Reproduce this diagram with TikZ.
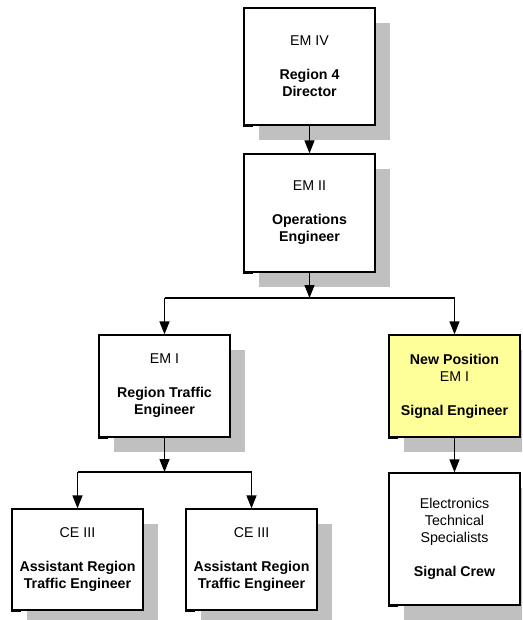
\documentclass[tikz,border=0pt]{standalone}
\usepackage{fontspec}
\setmainfont{Liberation Sans}
\usetikzlibrary{arrows.meta,shadows}
\definecolor{shadowgray}{HTML}{C0C0C0}
\definecolor{newyellow}{HTML}{FFFF99}
\begin{document}
\begin{tikzpicture}[x=1pt,y=-1pt,
  orgbox/.style={draw=black, fill=white, line width=1.2pt, minimum width=131pt,
    inner sep=0pt, align=center, font=\fontsize{14.2}{17}\selectfont,
    drop shadow={shadow xshift=15pt, shadow yshift=-15pt, fill=shadowgray, opacity=1}},
  conn/.style={line width=1.2pt},
  cornermark/.style={line width=1.3pt},
  arr/.style={conn, -{Triangle[width=10pt,length=13pt]}}]
\clip (0,0) rectangle (522,620);
\fill[white] (0,0) rectangle (522,620);

\node[orgbox, minimum height=117pt] (dir) at (309.5,66.5)
  {EM IV\\[17pt]\textbf{Region 4}\\\textbf{Director}};
\node[orgbox, minimum height=118pt] (ops) at (309.5,213)
  {EM II\\[17pt]\textbf{Operations}\\\textbf{Engineer}};
\node[orgbox, minimum height=102pt] (rte) at (164.5,386)
  {EM I\\[17pt]\textbf{Region Traffic}\\\textbf{Engineer}};
\node[orgbox, fill=newyellow, minimum height=102pt] (sig) at (454.5,386)
  {\textbf{New Position}\\EM I\\[17pt]\textbf{Signal Engineer}};
\node[orgbox, minimum height=132pt] (crew) at (454.5,539)
  {Electronics\\Technical\\Specialists\\[17pt]\textbf{Signal Crew}};
\node[orgbox, minimum height=101pt] (ast1) at (77.5,559.5)
  {CE III\\[17pt]\textbf{Assistant Region}\\\textbf{Traffic Engineer}};
\node[orgbox, minimum height=101pt] (ast2) at (251.5,559.5)
  {CE III\\[17pt]\textbf{Assistant Region}\\\textbf{Traffic Engineer}};

\foreach \n in {dir,ops,rte,sig,crew,ast1,ast2}
  \draw[cornermark] ([yshift=-1pt]\n.south west) -- ++(10,0);

\coordinate (j1) at (309.5,298);
\coordinate (j1l) at (164.5,298);
\coordinate (j1r) at (454.5,298);
\coordinate (j2) at (164.5,472);
\coordinate (j2l) at (77.5,472);
\coordinate (j2r) at (251.5,472);

\draw[arr] (dir) -- (ops);
\draw[arr] (ops) -- (j1);
\draw[conn] (j1l) -- (j1r);
\draw[arr] (j1l) -- (rte);
\draw[arr] (j1r) -- (sig);
\draw[arr] (sig) -- (crew);
\draw[arr] (rte) -- (j2);
\draw[conn] (j2l) -- (j2r);
\draw[arr] (j2l) -- (ast1);
\draw[arr] (j2r) -- (ast2);
\end{tikzpicture}
\end{document}
